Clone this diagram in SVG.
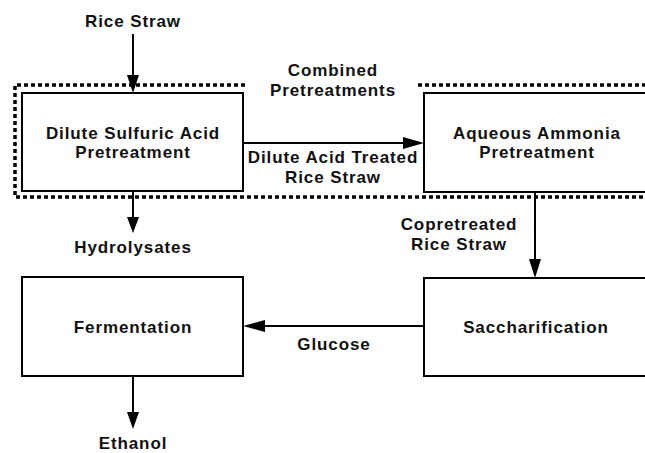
<svg xmlns="http://www.w3.org/2000/svg" width="645" height="453" viewBox="0 0 645 453">
<defs>
<style>
.box{fill:#fff;stroke:#000;stroke-width:2}
.t{font-family:"Liberation Sans",Arial,sans-serif;font-size:17px;font-weight:bold;letter-spacing:0.9px;fill:#111;text-anchor:middle}
.ln{stroke:#000;stroke-width:2;fill:none}
.ah{fill:#000}
.dot{stroke:#000;stroke-width:3.5;fill:none;stroke-dasharray:4 3}
</style>
</defs>
<rect width="645" height="453" fill="#fff"/>
<g id="group-combined">
<path class="dot" d="M245,85 H15 V197 H647"/>
<path class="dot" d="M418,85 H647"/>
<text class="t" x="333" y="76">Combined</text>
<text class="t" x="333" y="96">Pretreatments</text>
</g>
<g id="connectors">
<line class="ln" x1="133" y1="34" x2="133" y2="80"/>
<path class="ah" d="M127,75 L139,75 L133,93 z"/>
<line class="ln" x1="243" y1="143" x2="410" y2="143"/>
<path class="ah" d="M403,137 L424,143 L403,149 z"/>
<line class="ln" x1="133" y1="191" x2="133" y2="220"/>
<path class="ah" d="M127,217 L139,217 L133,233 z"/>
<line class="ln" x1="535" y1="192" x2="535" y2="265"/>
<path class="ah" d="M529,259 L541,259 L535,278 z"/>
<line class="ln" x1="424" y1="326" x2="258" y2="326"/>
<path class="ah" d="M265,320 L243,326 L265,332 z"/>
<line class="ln" x1="133" y1="376" x2="133" y2="415"/>
<path class="ah" d="M127,412 L139,412 L133,429 z"/>
<text class="t" x="333" y="163">Dilute Acid Treated</text>
<text class="t" x="333" y="183">Rice Straw</text>
<text class="t" x="459" y="230">Copretreated</text>
<text class="t" x="459" y="250">Rice Straw</text>
<text class="t" x="334" y="350">Glucose</text>
</g>
<g id="node-rice-straw"><text class="t" x="133" y="27">Rice Straw</text></g>
<g id="node-dilute">
<rect class="box" x="22" y="93" width="221" height="98"/>
<text class="t" x="133" y="139">Dilute Sulfuric Acid</text>
<text class="t" x="133" y="158">Pretreatment</text>
</g>
<g id="node-ammonia">
<rect class="box" x="424" y="93" width="230" height="99"/>
<text class="t" x="537" y="139">Aqueous Ammonia</text>
<text class="t" x="537" y="158">Pretreatment</text>
</g>
<g id="node-hydrolysates"><text class="t" x="133" y="253">Hydrolysates</text></g>
<g id="node-fermentation">
<rect class="box" x="22" y="277" width="221" height="99"/>
<text class="t" x="133" y="333">Fermentation</text>
</g>
<g id="node-saccharification">
<rect class="box" x="424" y="278" width="230" height="98"/>
<text class="t" x="536" y="333">Saccharification</text>
</g>
<g id="node-ethanol"><text class="t" x="133" y="449">Ethanol</text></g>
</svg>
